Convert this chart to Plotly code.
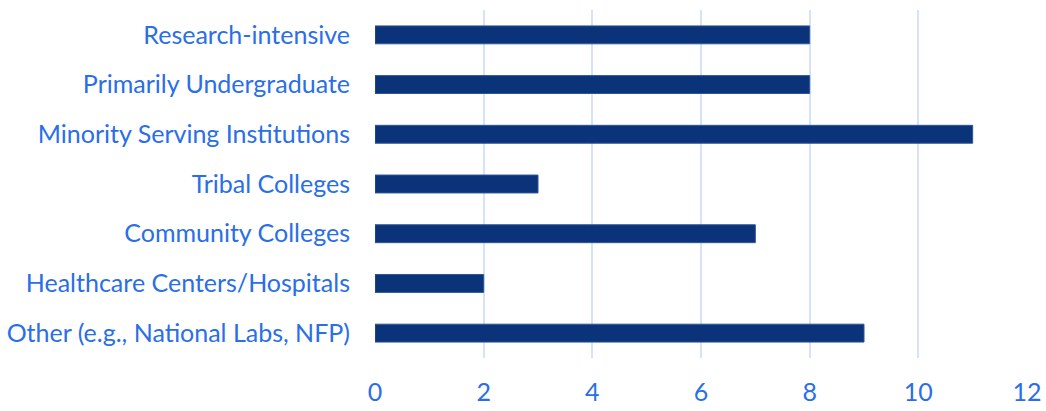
import plotly.graph_objects as go

categories = [
    "Research-intensive",
    "Primarily Undergraduate",
    "Minority Serving Institutions",
    "Tribal Colleges",
    "Community Colleges",
    "Healthcare Centers/Hospitals",
    "Other (e.g., National Labs, NFP)",
]
counts = [8, 8, 11, 3, 7, 2, 9]
x_ticks = [0, 2, 4, 6, 8, 10, 12]

BAR = "#0B337A"
TEXT = "#2A6EE8"
GRID = "#D6E2FA"

fig = go.Figure(
    go.Bar(
        y=categories,
        x=counts,
        orientation="h",
        marker=dict(color=BAR, line=dict(color="#2F5597", width=1)),
        hoverinfo="x+y",
    )
)

fig.update_layout(
    width=1046,
    height=411,
    margin=dict(l=375, r=19, t=10, b=53, autoexpand=False),
    paper_bgcolor="white",
    plot_bgcolor="white",
    bargap=0.64,
    showlegend=False,
    font=dict(family="Lato, Carlito, sans-serif", color=TEXT),
)

fig.update_xaxes(
    range=[0, 12],
    tickvals=x_ticks,
    ticktext=[str(v) for v in x_ticks],
    showgrid=True,
    gridcolor=GRID,
    gridwidth=2,
    zeroline=False,
    showline=False,
    ticks="outside",
    ticklen=0,
    tickfont=dict(size=25, color=TEXT),
    ticklabelstandoff=12,
    automargin=False,
)

fig.update_yaxes(
    autorange="reversed",
    showgrid=False,
    zeroline=False,
    showline=False,
    tickfont=dict(size=25, color=TEXT),
    ticklabelstandoff=24,
    automargin=False,
)

fig.write_html("out.html")
